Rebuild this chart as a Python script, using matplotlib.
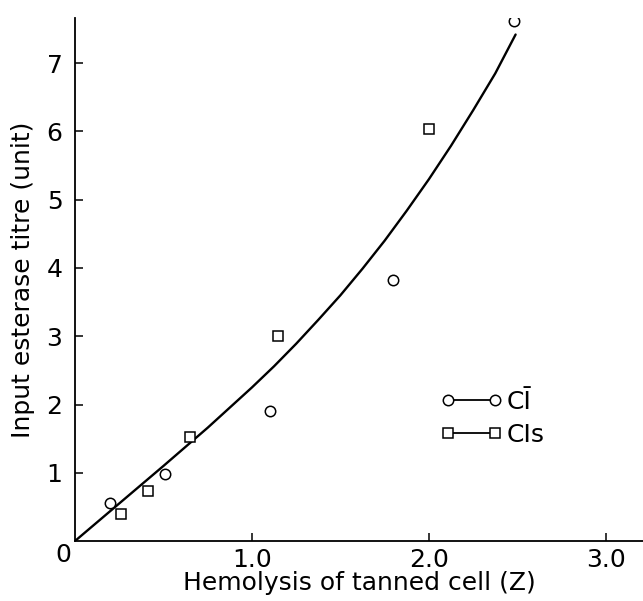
import matplotlib
matplotlib.use("Agg")
import matplotlib.pyplot as plt
from matplotlib.lines import Line2D

ci_x = [0.20, 0.51, 1.10, 1.80, 2.48]
ci_y = [0.55, 0.98, 1.90, 3.82, 7.62]

cis_x = [0.26, 0.41, 0.65, 1.15, 2.00]
cis_y = [0.39, 0.73, 1.52, 3.00, 6.03]

# fitted curve
curve_x = [0, 0.25, 0.50, 0.75, 1.00, 1.125, 1.25, 1.375, 1.50, 1.625, 1.75,
           1.875, 2.00, 2.125, 2.25, 2.375, 2.49]
curve_y = [0, 0.55, 1.10, 1.66, 2.25, 2.56, 2.89, 3.24, 3.60, 3.99, 4.40,
           4.84, 5.30, 5.79, 6.31, 6.85, 7.42]

x_ticks = [1.0, 2.0, 3.0]
x_tick_labels = ["1.0", "2.0", "3.0"]
y_ticks = [1, 2, 3, 4, 5, 6, 7]

plt.rcParams['font.family'] = ['DejaVu Sans']
fs = 18

fig = plt.figure(figsize=(6.43, 6.01), dpi=100)
ax = fig.add_axes([0.1166, 0.0998, 0.8834, 0.870])

ax.plot(curve_x, curve_y, color='black', lw=1.7, solid_capstyle='round', solid_joinstyle='round')
ax.plot(ci_x, ci_y, ls='none', marker='o', ms=7.5, mfc='white', mec='black', mew=1.1)
ax.plot(cis_x, cis_y, ls='none', marker='s', ms=7.5, mfc='white', mec='black', mew=1.1)

ax.set_xlim(0, 3.21)
ax.set_ylim(0, 7.66)
ax.spines['top'].set_visible(False)
ax.spines['right'].set_visible(False)
for s in ['left', 'bottom']:
    ax.spines[s].set_linewidth(1.3)

ax.set_xticks(x_ticks)
ax.set_xticklabels(x_tick_labels)
ax.set_yticks(y_ticks)
ax.tick_params(direction='in', length=6, width=1.1, labelsize=fs)
ax.tick_params(axis='x', pad=5)
ax.tick_params(axis='y', pad=9)
ax.text(-0.065, -0.03, "0", fontsize=fs, ha='center', va='top')

ax.set_xlabel("Hemolysis of tanned cell (Z)", fontsize=fs, labelpad=-1)
ax.set_ylabel("Input esterase titre (unit)", fontsize=fs, labelpad=8)

h1 = Line2D([], [], color='black', lw=1.3, marker='o', ms=7.5, mfc='white', mec='black', mew=1.1)
h2 = Line2D([], [], color='black', lw=1.3, marker='s', ms=7, mfc='white', mec='black', mew=1.1)
ax.legend([h1, h2], ["CĪ", "CIs"], loc='center left', bbox_to_anchor=(0.622, 0.235),
          frameon=False, numpoints=2, handlelength=2.45, handletextpad=0.2,
          borderpad=0, fontsize=fs, labelspacing=0.35)

fig.savefig("out.png", dpi=100)
